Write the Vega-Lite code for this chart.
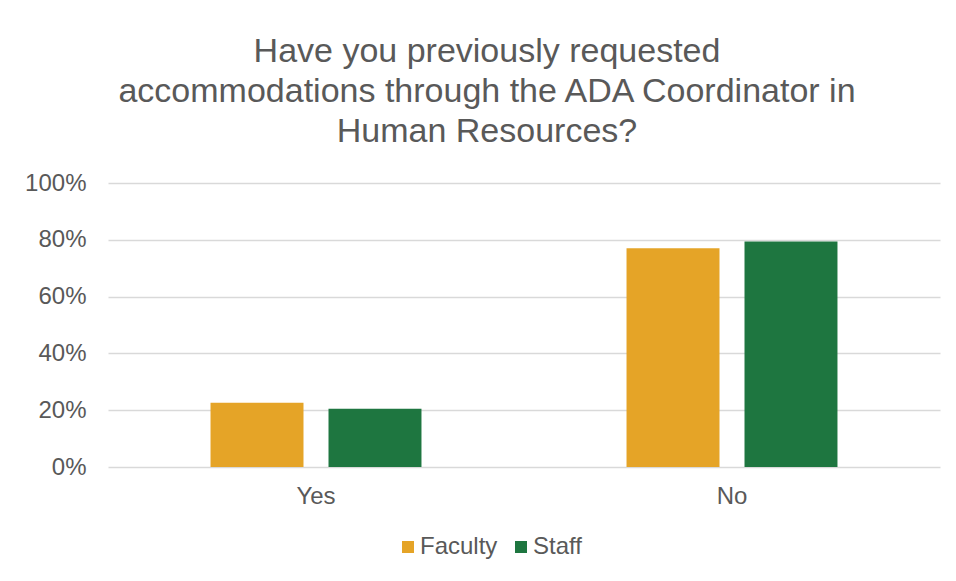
{
  "$schema": "https://vega.github.io/schema/vega-lite/v6.json",
  "autosize": {"type": "none"},
  "width": 832,
  "height": 284,
  "padding": {"left": 108, "top": 183, "right": 16, "bottom": 114},
  "background": "white",
  "data": {"values": [
    {"answer": "Yes", "group": "Faculty", "value": 0.226},
    {"answer": "Yes", "group": "Staff", "value": 0.205},
    {"answer": "No", "group": "Faculty", "value": 0.770},
    {"answer": "No", "group": "Staff", "value": 0.794}
  ]},
  "title": {
    "text": ["Have you previously requested", "accommodations through the ADA Coordinator in", "Human Resources?"],
    "font": "Liberation Sans",
    "fontSize": 34,
    "fontWeight": "normal",
    "color": "#595959",
    "anchor": "middle",
    "dx": -37,
    "lineHeight": 40,
    "offset": 22
  },
  "mark": {"type": "bar"},
  "encoding": {
    "x": {
      "field": "answer", "type": "nominal", "sort": ["Yes", "No"],
      "scale": {"paddingInner": 0, "paddingOuter": 0},
      "axis": {"title": null, "labelAngle": 0, "ticks": false, "domain": false,
        "labelFont": "Liberation Sans", "labelFontSize": 24, "labelColor": "#595959", "labelPadding": 17}
    },
    "xOffset": {
      "field": "group", "type": "nominal", "sort": ["Faculty", "Staff"],
      "scale": {"paddingInner": 0.212, "paddingOuter": 0.869}
    },
    "y": {
      "field": "value", "type": "quantitative",
      "scale": {"domain": [0, 1]},
      "axis": {"title": null, "format": ".0%", "values": [0, 0.2, 0.4, 0.6, 0.8, 1], "ticks": false, "domain": false,
        "labelFont": "Liberation Sans", "labelFontSize": 24, "labelColor": "#595959", "labelPadding": 22,
        "gridColor": "#d9d9d9", "gridWidth": 1.5}
    },
    "color": {
      "field": "group", "type": "nominal", "sort": ["Faculty", "Staff"],
      "scale": {"domain": ["Faculty", "Staff"], "range": ["#E5A427", "#1E7640"]},
      "legend": {"title": null, "orient": "none", "direction": "horizontal", "legendX": 288, "legendY": 352,
        "symbolType": "square", "symbolSize": 144, "symbolStrokeWidth": 0, "symbolOpacity": 1,
        "labelFont": "Liberation Sans", "labelFontSize": 24, "labelColor": "#595959", "labelOffset": 0, "columnPadding": 11}
    }
  },
  "config": {"view": {"stroke": null}}
}
